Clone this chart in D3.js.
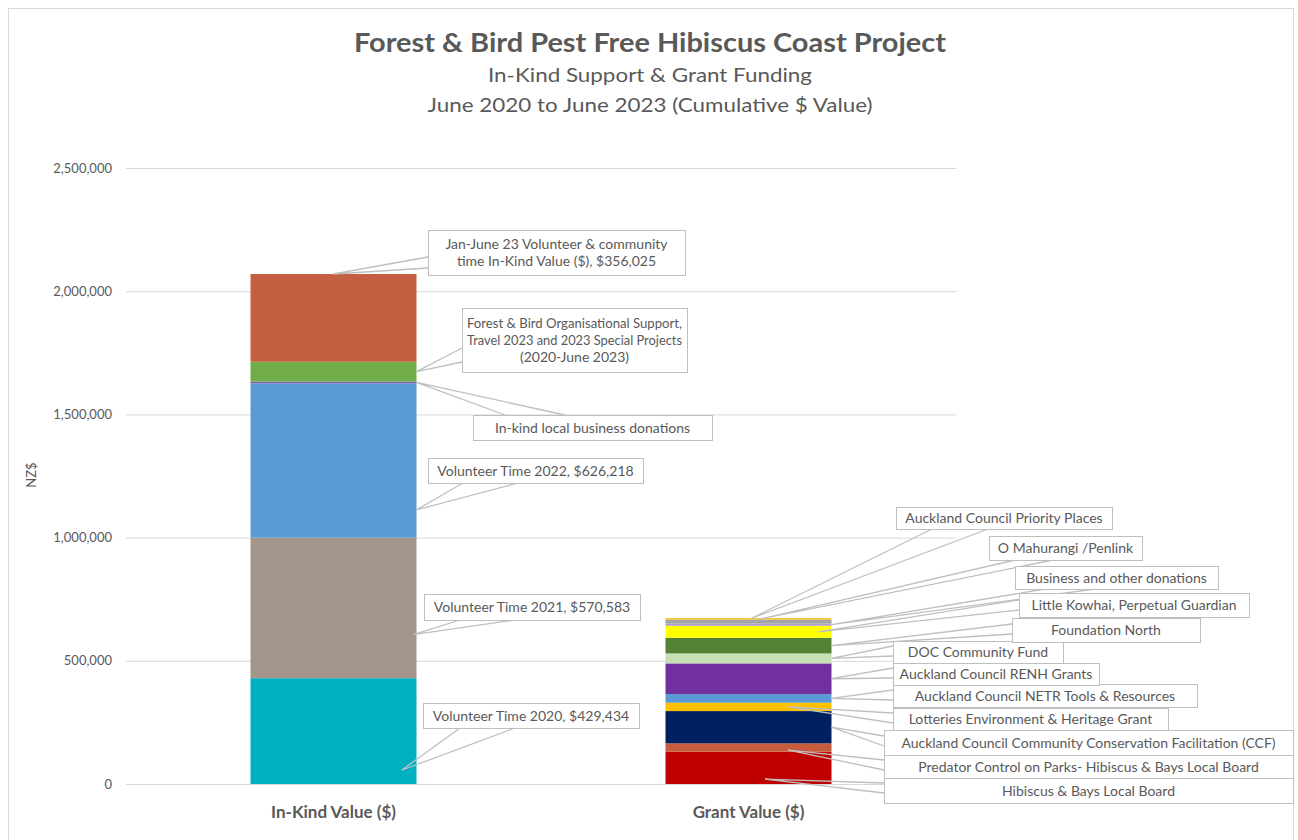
<!DOCTYPE html>
<html>
<head>
<meta charset="utf-8">
<script src="https://cdn.jsdelivr.net/npm/d3@7"></script>
<style>
  body { margin: 0; background: #fff; }
  text { font-family: Lato, 'Open Sans', sans-serif; fill: #595959; }
</style>
</head>
<body>
<svg width="1298" height="840"></svg>
<script>
// data
const categories = ['In-Kind Value ($)', 'Grant Value ($)'];

// in-kind, bottom to top
const inKindNames = [
  'Volunteer Time 2020',
  'Volunteer Time 2021',
  'Volunteer Time 2022',
  'In-kind local business donations',
  'Forest & Bird Organisational Support,\nTravel 2023 and 2023 Special Projects\n(2020-June 2023)',
  'Jan-June 23 Volunteer & community\ntime In-Kind Value ($)'
];
const inKindValues = [429434, 570583, 626218, 7000, 80500, 356025];
const inKindShowValue = [true, true, true, false, false, true];

// grants, bottom to top
const grantNames = [
  'Hibiscus & Bays Local Board',
  'Predator Control on Parks- Hibiscus & Bays Local Board',
  'Auckland Council Community Conservation Facilitation (CCF)',
  'Lotteries Environment & Heritage Grant',
  'Auckland Council NETR Tools & Resources',
  'Auckland Council RENH Grants',
  'DOC Community Fund',
  'Foundation North',
  'Little Kowhai, Perpetual Guardian',
  'Business and other donations',
  'O Mahurangi /Penlink',
  'Auckland Council Priority Places'
];
const grantValues = [131000, 34000, 131000, 34000, 35000, 124500, 40500, 63500, 48500, 9000, 17000, 5000];

const yTicks = [0, 500000, 1000000, 1500000, 2000000, 2500000];

// styles
const inKindColors = ['#00B0C0', '#A39589', '#5B9BD5', '#7A5FA8', '#70AD47', '#C55F41'];
const grantColors = ['#C00000', '#C65B3E', '#002060', '#FFC000', '#5B9BD5', '#7030A0',
  '#C5E0B4', '#548235', '#FFFF00', '#B4A0CC', '#A5A5A5', '#FFC000'];

// callout layout: box [x, y, w, h], wedge base points, anchor as fraction of bar width / segment height
const inKindCallouts = [
  { box: [423, 703, 216, 25], base: [[460, 728], [515, 728]], fx: 0.91, fy: 0.13 },
  { box: [424, 594, 216, 26], base: [[460, 620], [515, 620]], fx: 0.98, fy: 0.31 },
  { box: [428, 458, 215, 25], base: [[463, 483], [518, 483]], fx: 1, fy: 0.18 },
  { box: [473, 415, 239, 25], base: [[505, 415], [565, 415]], fx: 1, fy: 0.5 },
  { box: [462, 308, 225, 64], base: [[462, 348], [462, 362]], fx: 1, fy: 0.5 },
  { box: [428, 230, 257, 45], base: [[428, 257], [428, 268]], fx: 0.5, fy: 1 }
];
const grantCallouts = [
  { box: [884, 778, 409, 25], base: [[884, 783], [884, 793]], fx: 0.6, fy: 0.15 },
  { box: [884, 755, 409, 23], base: [[884, 760], [884, 770]], fx: 0.74, fy: 0.2 },
  { box: [884, 730, 409, 25], base: [[884, 736], [884, 746]], fx: 1, fy: 0.5 },
  { box: [893, 708, 275, 22], base: [[893, 713], [893, 723]], fx: 0.74, fy: 0.5 },
  { box: [893, 684, 304, 23], base: [[893, 690], [893, 700]], fx: 1, fy: 0.5 },
  { box: [893, 663, 206, 22], base: [[893, 668], [893, 678]], fx: 1, fy: 0.5 },
  { box: [893, 641, 170, 22], base: [[893, 646], [893, 656]], fx: 1, fy: 0.5 },
  { box: [1012, 618, 188, 24], base: [[1012, 624], [1012, 634]], fx: 1, fy: 0.5 },
  { box: [1019, 593, 230, 24], base: [[1019, 600], [1019, 610]], fx: 0.92, fy: 0.5 },
  { box: [1015, 566, 203, 23], base: [[1045, 589], [1095, 589]], fx: 1, fy: 0.5 },
  { box: [989, 536, 153, 24], base: [[1015, 560], [1053, 560]], fx: 0.56, fy: 1 },
  { box: [896, 507, 216, 22], base: [[932, 529], [988, 529]], fx: 0.52, fy: 1 }
];

const svg = d3.select('svg');

// outer chart border
svg.append('rect')
  .attr('x', 8.5).attr('y', 8.5)
  .attr('width', 1285).attr('height', 840)
  .attr('fill', 'none')
  .attr('stroke', '#D9D9D9');

const x = d3.scaleBand().domain(categories).range([126, 956]).paddingInner(0.6).paddingOuter(0.3);
const y = d3.scaleLinear().domain([0, 2500000]).range([784, 168]);

// gridlines + tick labels
const yAxis = svg.append('g')
  .attr('transform', 'translate(126,0)')
  .call(d3.axisLeft(y).tickValues(yTicks).tickSize(-830).tickPadding(14).tickFormat(d3.format(',')));
yAxis.select('.domain').remove();
yAxis.selectAll('line').attr('stroke', '#D9D9D9');
yAxis.selectAll('text')
  .style('font', '13px Lato, sans-serif')
  .attr('fill', '#707070');

svg.append('text')
  .attr('transform', 'translate(36,475) rotate(-90)')
  .attr('text-anchor', 'middle')
  .style('font-size', '13px')
  .attr('fill', '#707070')
  .text('NZ$');

// stacked bars
function stackSegments(values, colors, cat) {
  const tops = d3.cumsum(values);
  return values.map((v, i) => ({ cat, value: v, y0: tops[i] - v, y1: tops[i], color: colors[i] }));
}
const inKindSegs = stackSegments(inKindValues, inKindColors, categories[0]);
const grantSegs = stackSegments(grantValues, grantColors, categories[1]);

svg.append('g')
  .selectAll('rect')
  .data(inKindSegs.concat(grantSegs))
  .join('rect')
  .attr('x', (d) => x(d.cat))
  .attr('width', x.bandwidth())
  .attr('y', (d) => y(d.y1))
  .attr('height', (d) => y(d.y0) - y(d.y1))
  .attr('fill', (d) => d.color);

// category labels
svg.append('g')
  .selectAll('text')
  .data(categories)
  .join('text')
  .attr('x', (d) => x(d) + x.bandwidth() / 2)
  .attr('y', 818)
  .attr('text-anchor', 'middle')
  .style('font-size', '17px')
  .style('font-weight', 'bold')
  .text((d) => d);

// callouts
const fmt = d3.format(',');
const inKindText = inKindNames.map((n, i) => inKindShowValue[i] ? n + ', $' + fmt(inKindValues[i]) : n);

function buildCallouts(segs, texts, layout) {
  return segs.map((s, i) => {
    const L = layout[i];
    const ax = x(s.cat) + x.bandwidth() * L.fx;
    const ay = y(s.y0 + (s.y1 - s.y0) * L.fy);
    return { lines: texts[i].split('\n'), box: L.box, base: L.base, anchor: [ax, ay] };
  });
}
const callouts = buildCallouts(inKindSegs, inKindText, inKindCallouts)
  .concat(buildCallouts(grantSegs, grantNames, grantCallouts));

svg.append('g')
  .selectAll('path')
  .data(callouts)
  .join('path')
  .attr('d', (d) => d3.line()([d.base[0], d.anchor, d.base[1]]))
  .attr('fill', 'none')
  .attr('stroke', '#BFBFBF')
  .attr('stroke-width', 1.3);

const boxes = svg.append('g')
  .selectAll('g')
  .data(callouts)
  .join('g');

boxes.append('rect')
  .attr('x', (d) => d.box[0] + 0.5)
  .attr('y', (d) => d.box[1] + 0.5)
  .attr('width', (d) => d.box[2])
  .attr('height', (d) => d.box[3])
  .attr('fill', '#fff')
  .attr('stroke', '#BFBFBF');

boxes.each(function (d) {
  const lh = 17;
  const cy = d.box[1] + d.box[3] / 2;
  const t = d3.select(this).append('text')
    .attr('text-anchor', 'middle')
    .style('font-size', '14px');
  d.lines.forEach((line, i) => {
    const ts = t.append('tspan')
      .attr('x', d.box[0] + d.box[2] / 2)
      .attr('y', cy + (i - (d.lines.length - 1) / 2) * lh + 5)
      .text(line);
    // keep long lines inside their box
    if (ts.node().getComputedTextLength() > d.box[2] - 10) {
      ts.attr('textLength', d.box[2] - 10).attr('lengthAdjust', 'spacingAndGlyphs');
    }
  });
});

// titles
const titles = [
  { text: 'Forest & Bird Pest Free Hibiscus Coast Project', y: 52, size: 26, bold: true, width: 592 },
  { text: 'In-Kind Support & Grant Funding', y: 82, size: 19, bold: false, width: 324 },
  { text: 'June 2020 to June 2023 (Cumulative $ Value)', y: 112, size: 19, bold: false, width: 445 }
];
svg.append('g')
  .selectAll('text')
  .data(titles)
  .join('text')
  .attr('x', 650)
  .attr('y', (d) => d.y)
  .attr('text-anchor', 'middle')
  .style('font-size', (d) => d.size + 'px')
  .style('font-weight', (d) => d.bold ? 'bold' : 'normal')
  .attr('textLength', (d) => d.width)
  .attr('lengthAdjust', 'spacingAndGlyphs')
  .text((d) => d.text);
</script>
</body>
</html>
